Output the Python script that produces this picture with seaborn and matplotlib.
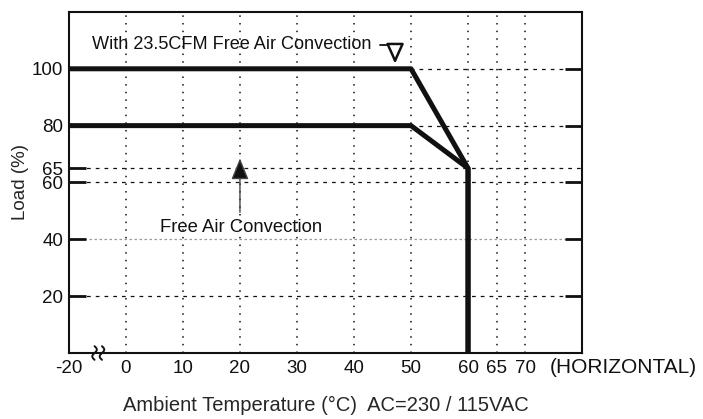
import matplotlib
matplotlib.use("Agg")
import matplotlib.pyplot as plt
import numpy as np
import pandas as pd
import seaborn as sns
from matplotlib.ticker import FixedLocator, FixedFormatter

# derating curves (x = -10 is drawn at the broken "-20" position)
temp_fan = [-10, 50, 60, 60]
load_fan = [100, 100, 65, 0]
temp_free = [-10, 50, 60, 60]
load_free = [80, 80, 65, 0]

x_major = [-10, 0, 10, 20, 30, 40, 50, 60]
x_major_labels = ["-20", "0", "10", "20", "30", "40", "50", "60"]
x_minor = [65, 70]
x_minor_labels = ["65", "70"]
y_major = [20, 40, 60, 80, 100]
y_minor = [65]

fan_label = "With 23.5CFM Free Air Convection"
free_label = "Free Air Convection"


def main():
    sns.set_theme(style="white")
    plt.rcParams["font.family"] = ["Liberation Sans", "DejaVu Sans"]

    df = pd.concat([
        pd.DataFrame({"temp": temp_fan, "load": load_fan, "curve": "fan"}),
        pd.DataFrame({"temp": temp_free, "load": load_free, "curve": "free"}),
    ])

    fig = plt.figure(figsize=(7.03, 4.19), dpi=100)
    ax = fig.add_axes([0.098, 0.1575, 0.730, 0.814])

    sns.lineplot(data=df, x="temp", y="load", hue="curve", palette=["#111111", "#111111"],
                 sort=False, estimator=None, linewidth=3.6, legend=False, ax=ax, zorder=5)

    ax.set_xlim(-10, 80)
    ax.set_ylim(0, 120)

    ax.xaxis.set_major_locator(FixedLocator(x_major))
    ax.xaxis.set_major_formatter(FixedFormatter(x_major_labels))
    ax.xaxis.set_minor_locator(FixedLocator(x_minor))
    ax.xaxis.set_minor_formatter(FixedFormatter(x_minor_labels))
    ax.yaxis.set_major_locator(FixedLocator(y_major))
    ax.yaxis.set_minor_locator(FixedLocator(y_minor))
    ax.yaxis.set_minor_formatter(FixedFormatter([str(v) for v in y_minor]))

    ax.tick_params(axis="both", which="both", direction="in", labelsize=13.5, colors="#111111")
    ax.tick_params(axis="x", which="major", length=12, width=1.6, pad=5)
    ax.tick_params(axis="x", which="minor", length=12, width=0.8, pad=5)
    ax.tick_params(axis="y", which="major", length=12, width=2, pad=4, right=True, left=True)
    ax.tick_params(axis="y", which="minor", length=12, width=2, pad=4, left=True, right=False)

    ax.xaxis.grid(True, which="both", color="#111111", linestyle=(0, (1, 4)), linewidth=1.1)
    ax.yaxis.grid(True, which="both", color="#111111", linestyle=(0, (3, 4)), linewidth=0.9)
    for gl, val in zip(ax.get_ygridlines(), y_major):
        if val == 40:
            gl.set_color("#999999")
            gl.set_linestyle((0, (2, 2)))

    for s in ax.spines.values():
        s.set_color("#111111")
        s.set_linewidth(1.5)

    ax.set_xlabel("Ambient Temperature (°C)  AC=230 / 115VAC", fontsize=14.5, labelpad=14)
    ax.set_ylabel("Load (%)", fontsize=13.5, labelpad=2)

    # annotations
    ax.text(-6, 108.5, fan_label, fontsize=13.1, va="center", ha="left", color="#111111")
    ax.plot([44.6, 47.9], [108.5, 108.5], color="#111111", lw=1.3)
    ax.annotate("", xy=(47.2, 101.8), xytext=(47.2, 108.5),
                arrowprops=dict(arrowstyle="-|>,head_length=1.0,head_width=0.45",
                                fc="white", ec="#111111", lw=1.8, shrinkA=0, shrinkB=0))
    ax.text(20.2, 44.3, free_label, fontsize=13.3, va="center", ha="center", color="#111111")
    ax.annotate("", xy=(20, 68.5), xytext=(20, 49.5),
                arrowprops=dict(arrowstyle="-|>,head_length=1.1,head_width=0.45",
                                fc="#111111", ec="#444444", lw=1, shrinkA=0, shrinkB=0))

    # axis break marks (two small squiggles on the x axis)
    t = np.linspace(-1, 1, 30)
    for x0 in (-5.5, -4.2):
        ax.plot(x0 + 0.4 * np.sin(np.pi * t), 2.4 * t, color="#111111", lw=1.4, clip_on=False)

    ax.text(74.3, -0.043, "(HORIZONTAL)", transform=ax.get_xaxis_transform(), fontsize=15,
            ha="left", va="center", color="#111111", clip_on=False)

    fig.savefig("out.png", dpi=100)


if __name__ == "__main__":
    main()
